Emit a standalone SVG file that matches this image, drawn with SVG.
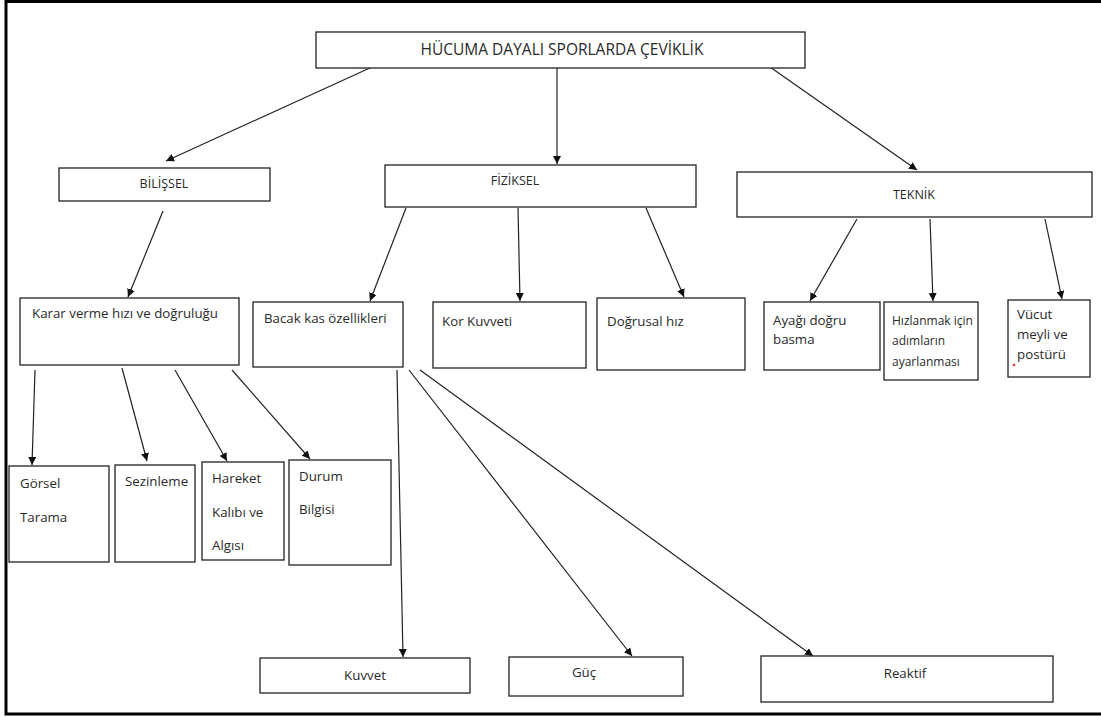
<svg xmlns="http://www.w3.org/2000/svg" width="1101" height="717" viewBox="0 0 1101 717">
<defs>
<marker id="ah" viewBox="0 0 10 10" refX="10" refY="5" markerWidth="8" markerHeight="8" markerUnits="userSpaceOnUse" orient="auto">
<path d="M0,0 L10,5 L0,10 z" fill="#111"/>
</marker>
</defs>
<style>
.box{fill:#fff;stroke:#222;stroke-width:1.3}
.t{font-family:"Open Sans","Noto Sans",sans-serif;font-size:13.3px;fill:#2a2a2a}
.cap{font-size:12.5px}
.sm{font-size:12px}
.c{text-anchor:middle}
.ln{stroke:#222;stroke-width:1.2;fill:none;marker-end:url(#ah)}
.frame{stroke:#000;stroke-width:3;fill:none}
</style>
<rect width="1101" height="717" fill="#fff"/>
<path class="frame" d="M1101,1.5 H6 V714 H1101"/>

<g id="connectors">
<line class="ln" x1="372" y1="67" x2="166" y2="161"/>
<line class="ln" x1="557" y1="68" x2="557" y2="164"/>
<line class="ln" x1="770" y1="67" x2="917" y2="170"/>
<line class="ln" x1="163" y1="211" x2="128" y2="297"/>
<line class="ln" x1="406" y1="208" x2="370" y2="301"/>
<line class="ln" x1="518" y1="208" x2="520" y2="301"/>
<line class="ln" x1="646" y1="208" x2="684" y2="297"/>
<line class="ln" x1="857" y1="219" x2="810" y2="301"/>
<line class="ln" x1="930" y1="219" x2="933" y2="301"/>
<line class="ln" x1="1045" y1="219" x2="1062" y2="299"/>
<line class="ln" x1="35" y1="370" x2="32" y2="465"/>
<line class="ln" x1="122" y1="368" x2="147" y2="461"/>
<line class="ln" x1="175" y1="370" x2="227" y2="461"/>
<line class="ln" x1="232" y1="370" x2="310" y2="459"/>
<line class="ln" x1="397" y1="370" x2="403" y2="657"/>
<line class="ln" x1="409" y1="370" x2="632" y2="656"/>
<line class="ln" x1="420" y1="370" x2="813" y2="656"/>
</g>

<g id="root"><rect class="box" x="316" y="32" width="489" height="36"/><text class="t c" x="562" y="55" style="font-size:15.5px">HÜCUMA DAYALI SPORLARDA ÇEVİKLİK</text></g>
<g id="bilissel"><rect class="box" x="59" y="168" width="211" height="33"/><text class="t c cap" x="164" y="188">BİLİŞSEL</text></g>
<g id="fiziksel"><rect class="box" x="385" y="165" width="311" height="42"/><text class="t c cap" x="515" y="185">FİZİKSEL</text></g>
<g id="teknik"><rect class="box" x="737" y="172" width="355" height="45"/><text class="t c cap" x="914" y="199">TEKNİK</text></g>

<g id="karar"><rect class="box" x="20" y="298" width="219" height="67"/><text class="t" x="32" y="318">Karar verme hızı ve doğruluğu</text></g>
<g id="bacak"><rect class="box" x="253" y="302" width="150" height="65"/><text class="t" x="264" y="323">Bacak kas özellikleri</text></g>
<g id="kor"><rect class="box" x="433" y="302" width="153" height="66"/><text class="t" x="442" y="326">Kor Kuvveti</text></g>
<g id="dogrusal"><rect class="box" x="597" y="298" width="148" height="72"/><text class="t" x="607" y="326">Doğrusal hız</text></g>
<g id="ayagi"><rect class="box" x="764" y="302" width="116" height="68"/><text class="t" x="773" y="325">Ayağı doğru</text><text class="t" x="773" y="344">basma</text></g>
<g id="hizlanmak"><rect class="box" x="884" y="302" width="94" height="78"/><text class="t sm" x="892" y="325">Hızlanmak için</text><text class="t sm" x="892" y="345">adımların</text><text class="t sm" x="892" y="366">ayarlanması</text></g>
<g id="vucut"><rect class="box" x="1008" y="300" width="82" height="77"/><text class="t" x="1017" y="319">Vücut</text><text class="t" x="1017" y="339">meyli ve</text><text class="t" x="1017" y="359">postürü</text><circle cx="1014" cy="365" r="1.3" fill="#e33"/></g>

<g id="gorsel"><rect class="box" x="9" y="466" width="100" height="96"/><text class="t" x="20" y="488">Görsel</text><text class="t" x="20" y="522">Tarama</text></g>
<g id="sezinleme"><rect class="box" x="115" y="465" width="80" height="97"/><text class="t" x="125" y="486">Sezinleme</text></g>
<g id="hareket"><rect class="box" x="202" y="462" width="82" height="98"/><text class="t" x="212" y="483">Hareket</text><text class="t" x="212" y="517">Kalıbı ve</text><text class="t" x="212" y="550">Algısı</text></g>
<g id="durum"><rect class="box" x="289" y="460" width="102" height="105"/><text class="t" x="299" y="481">Durum</text><text class="t" x="299" y="514">Bilgisi</text></g>

<g id="kuvvet"><rect class="box" x="260" y="658" width="210" height="35"/><text class="t c" x="365" y="680">Kuvvet</text></g>
<g id="guc"><rect class="box" x="509" y="657" width="174" height="39"/><text class="t c" x="584" y="677">Güç</text></g>
<g id="reaktif"><rect class="box" x="761" y="656" width="292" height="46"/><text class="t c" x="905" y="678">Reaktif</text></g>
</svg>
